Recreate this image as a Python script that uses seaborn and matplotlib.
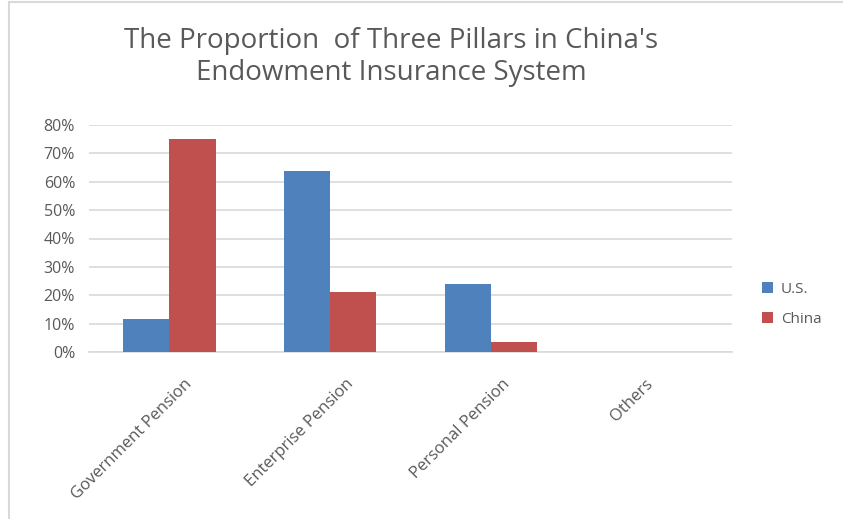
import matplotlib
matplotlib.use("Agg")
import matplotlib.pyplot as plt
import seaborn as sns
import pandas as pd
from matplotlib.lines import Line2D
from matplotlib.ticker import FuncFormatter
from matplotlib.transforms import ScaledTranslation

categories = ["Government Pension", "Enterprise Pension", "Personal Pension", "Others"]
series_names = ["U.S.", "China"]
us_values = [11.7, 63.7, 24.0, 0.0]
china_values = [74.9, 21.0, 3.6, 0.0]
y_ticks = [0, 10, 20, 30, 40, 50, 60, 70, 80]
title = "The Proportion  of Three Pillars in China's\nEndowment Insurance System"

df = pd.DataFrame({
    "category": categories * 2,
    "series": [series_names[0]] * 4 + [series_names[1]] * 4,
    "value": us_values + china_values,
})

sns.set_style("white")
plt.rcParams["font.family"] = ["Open Sans", "DejaVu Sans"]

fig = plt.figure(figsize=(8.43, 5.19), dpi=100)
W, H = 843, 519
ax = fig.add_axes([89 / W, 1 - 352 / H, (732 - 89) / W, (352 - 125) / H])

palette = {"U.S.": "#4f81bd", "China": "#c0504d"}
sns.barplot(data=df, x="category", y="value", hue="series", order=categories,
            hue_order=series_names, palette=palette, width=0.575, ax=ax,
            saturation=1, edgecolor="none", linewidth=0, zorder=3)

ax.set_xlim(-0.5, 3.5)
ax.set_ylim(0, 80)
ax.set_yticks(y_ticks)
ax.yaxis.set_major_formatter(FuncFormatter(lambda v, p: f"{int(v)}%"))
ax.grid(axis="y", color="#d9d9d9", linewidth=1.2, zorder=0)
ax.set_axisbelow(True)
for s in ["top", "right", "left"]:
    ax.spines[s].set_visible(False)
ax.spines["bottom"].set_color("#d9d9d9")
ax.spines["bottom"].set_linewidth(1.2)
ax.tick_params(axis="both", length=0, colors="#595959", labelsize=11.5)
ax.tick_params(axis="y", pad=10)
ax.set_xlabel("")
ax.set_ylabel("")
ax.set_xticks(range(len(categories)))
ax.set_xticklabels(categories, rotation=45, ha="right", rotation_mode="anchor",
                   color="#595959", fontsize=12)
for lab in ax.get_xticklabels():
    n = len(lab.get_text())
    dx_px = 15 + 1.8 * (n - 18)
    off = ScaledTranslation(dx_px / 100, -19 / 100, fig.dpi_scale_trans)
    lab.set_transform(lab.get_transform() + off)

leg = ax.legend(loc="center left", bbox_to_anchor=(1.026, 0.21), frameon=False,
                fontsize=11, handlelength=0.7, handleheight=0.7, handletextpad=0.5,
                labelspacing=1.0, labelcolor="#595959")

fig.text(391 / W, 1 - 57 / H, title, ha="center", va="center",
         fontsize=20, color="#595959", linespacing=1.2)

fig.lines.append(Line2D([9 / W, 9 / W], [0, 1 - 2 / H], transform=fig.transFigure,
                        color="#d9d9d9", linewidth=1.5))
fig.lines.append(Line2D([9 / W, 1], [1 - 2 / H, 1 - 2 / H], transform=fig.transFigure,
                        color="#d9d9d9", linewidth=1.5))

fig.savefig("out.png", dpi=100)
